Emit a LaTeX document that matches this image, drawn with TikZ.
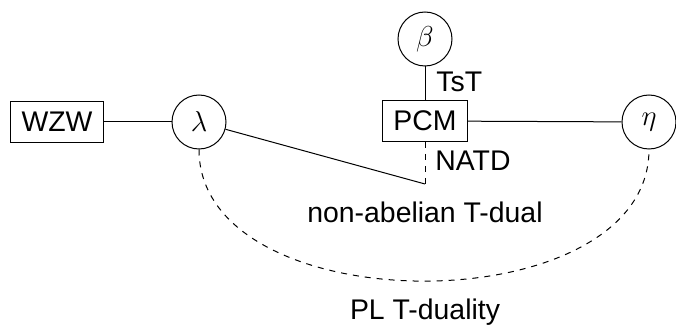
\documentclass[tikz,border=0pt]{standalone}
\usepackage{fontspec}
\setmainfont{Liberation Sans}
\begin{document}
\begin{tikzpicture}[x=0.5pt,y=-0.5pt,
  every node/.style={font=\fontsize{14.2}{17}\selectfont},
  boxnode/.style={draw, line width=0.5pt, inner xsep=5.5pt, minimum height=20.5pt},
  circnode/.style={draw, line width=0.5pt, circle, minimum size=27pt, inner sep=0pt},
  link/.style={line width=0.5pt},
  dlink/.style={line width=0.5pt, dashed}]
\useasboundingbox (0,0) rectangle (676,326);
% models
\node[boxnode] (wzw) at (57,122) {WZW};
\node[circnode] (lam) at (199,122) {$\lambda$};
\node[circnode] (beta) at (425,39) {$\beta$};
\node[boxnode] (pcm) at (425,121) {PCM};
\node[circnode] (eta) at (649,122) {$\eta$};
\coordinate (natd) at (425,184);
% deformations and dualities
\draw[link] (wzw) -- (lam);
\draw[link] (beta) -- (pcm);
\draw[link] (pcm) -- (eta);
\draw[link] (lam) -- (natd);
\draw[dlink] (pcm) -- (natd);
\draw[dlink] (lam.south) to[out=-90,in=-90] (eta.south);
% labels
\node[anchor=west, inner sep=0pt] (tst) at (436,82) {TsT};
\node[anchor=west, inner sep=0pt] (natdlab) at (435,161) {NATD};
\node (natdname) at (425,212) {non-abelian T-dual};
\node (pl) at (425,312) {PL T-duality};
\end{tikzpicture}
\end{document}
